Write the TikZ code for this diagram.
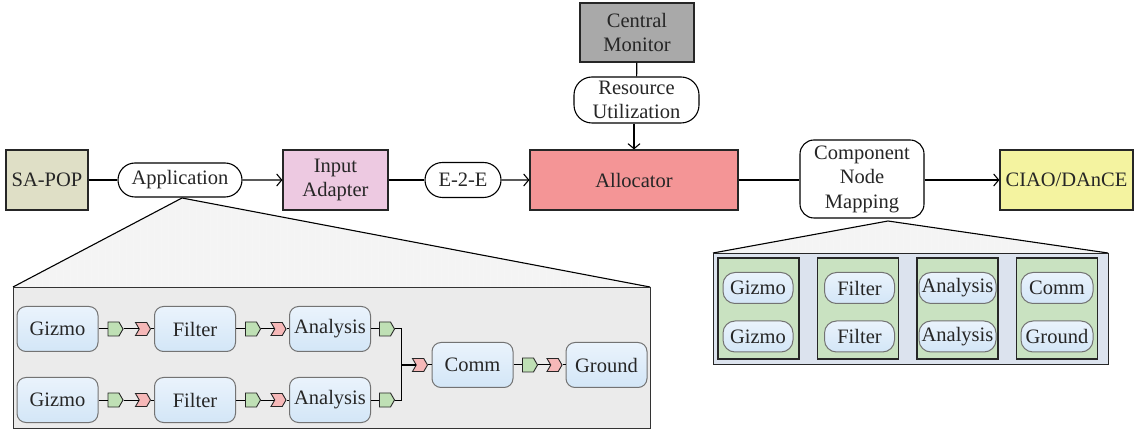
\documentclass[tikz,border=0pt]{standalone}
\usepackage{fontspec}
\setmainfont{Liberation Serif}
\usetikzlibrary{shapes.misc,shapes.symbols,arrows.meta}
\definecolor{sapop}{HTML}{DFDFC6}
\definecolor{inadapt}{HTML}{EDC9E1}
\definecolor{alloc}{HTML}{F49596}
\definecolor{ciao}{HTML}{F4F3A0}
\definecolor{cmon}{HTML}{A9A9A9}
\definecolor{pgreen}{HTML}{BFE0B5}
\definecolor{pred}{HTML}{F6B8B8}
\definecolor{colgreen}{HTML}{C9E2C1}
\definecolor{mapbox}{HTML}{DCE3EE}
\definecolor{appbox}{HTML}{EBEBEB}
\definecolor{tri}{HTML}{F4F4F4}
\definecolor{compa}{HTML}{EAF3FC}
\definecolor{compb}{HTML}{D3E6F7}
\definecolor{txt}{HTML}{262626}
\tikzset{
  every node/.style={font=\fontsize{20.5}{24.5}\selectfont, text=txt},
  blockbox/.style={draw=black!85, line width=1.2pt, align=center, inner sep=2pt},
  pill/.style={draw=black, line width=1.1pt, rounded rectangle, fill=white, align=center, inner sep=2pt},
  comp/.style={draw=black!55, line width=1pt, rounded corners=9pt, top color=compa, bottom color=compb, minimum width=81pt, minimum height=45pt, inner sep=0pt},
  mcomp/.style={draw=black!55, line width=1pt, rounded corners=12pt, top color=compa, bottom color=compb, minimum width=70pt, minimum height=31pt, inner sep=0pt},
  gport/.style={signal, signal to=east, signal pointer angle=120, draw=black!85, line width=0.9pt, fill=pgreen, minimum width=15pt, minimum height=14pt, inner sep=0pt},
  rport/.style={signal, signal from=west, signal to=east, signal pointer angle=120, draw=black!85, line width=0.9pt, fill=pred, minimum width=15pt, minimum height=13pt, inner sep=0pt},
  conn/.style={draw=black, line width=1.1pt},
  arr/.style={draw=black, line width=1.1pt, -{Straight Barb[length=5pt,width=12pt]}},
  link/.style={draw=black, line width=1pt},
}
\begin{document}
\begin{tikzpicture}[x=1pt,y=-1pt]
\useasboundingbox (0,0) rectangle (1135,435);

% top row
\node[blockbox, fill=sapop, minimum width=82pt, minimum height=60pt] (sapop) at (47,180) {SA-POP};
\node[pill, minimum width=128pt, minimum height=34pt] (app) at (180,180) {Application};
\node[blockbox, fill=inadapt, minimum width=105pt, minimum height=60pt] (ia) at (335.5,180) {Input\\Adapter};
\node[pill, minimum width=80pt, minimum height=35pt] (e2e) at (463,180) {E-2-E};
\node[blockbox, fill=alloc, minimum width=208pt, minimum height=60pt] (alloc) at (634,180) {Allocator};
\node[draw=black, line width=1.1pt, rounded corners=14pt, fill=white, align=center, minimum width=124pt, minimum height=78pt, inner sep=1pt] (cnm) at (862,179) {Component\\Node\\Mapping};
\node[blockbox, fill=ciao, minimum width=133pt, minimum height=60pt] (ciao) at (1066.5,180) {CIAO/DAnCE};
\node[blockbox, fill=cmon, minimum width=114pt, minimum height=59pt] (cmon) at (637,32.5) {Central\\Monitor};
\node[draw=black, line width=1.1pt, rounded corners=18pt, fill=white, align=center, minimum width=125pt, minimum height=46pt, inner sep=1pt] (ru) at (636.5,100) {Resource\\Utilization};

\draw[conn] (sapop) -- (app);
\draw[arr] (app) -- (ia);
\draw[conn] (ia) -- (e2e);
\draw[arr] (e2e) -- (alloc);
\draw[conn] (alloc.east) -- (cnm.west |- alloc.east);
\draw[arr] (cnm.east |- ciao.west) -- (ciao.west);
\draw[conn] (cmon) -- (ru);
\draw[arr] (ru.south -| alloc.north) -- (alloc.north);

% left zoom triangle
\coordinate (appz) at (182,198);
\coordinate (abl) at (13,287);
\coordinate (abr) at (650,287);
\begin{scope}
\clip (appz) -- (abl) -- (abr) -- cycle;
\fill[tri] (appz) -- (abl) -- (abr) -- cycle;
\draw[black!4, line width=0.4pt, step=7] (0,190) grid (660,290);
\end{scope}
\draw[black, line width=1.1pt] (abl) -- (appz) -- (abr);
\node[draw=black!80, line width=1.1pt, fill=appbox, minimum width=637pt, minimum height=141pt, inner sep=0pt, anchor=north west] (abox) at (abl) {};

% row 1
\node[comp] (giz1) at (57.5,329) {Gizmo};
\node[gport] (g11) at (113.5,329) {};
\node[rport] (r11) at (143,329) {};
\node[comp] (fil1) at (195,329) {Filter};
\node[gport] (g12) at (251,329) {};
\node[rport] (r12) at (278.5,329) {};
\node[comp] (ana1) at (330,329) {Analysis};
\node[gport] (g13) at (385,329) {};
% row 2
\node[comp] (giz2) at (57.5,400) {Gizmo};
\node[gport] (g21) at (113.5,400) {};
\node[rport] (r21) at (143,400) {};
\node[comp] (fil2) at (195,400) {Filter};
\node[gport] (g22) at (251,400) {};
\node[rport] (r22) at (278.5,400) {};
\node[comp] (ana2) at (330,400) {Analysis};
\node[gport] (g23) at (385,400) {};
% merged
\node[rport] (rc) at (420,365) {};
\node[comp] (comm) at (472.5,365) {Comm};
\node[gport] (gc) at (528,365) {};
\node[rport] (rg) at (554.5,365) {};
\node[comp] (gnd) at (606.5,365) {Ground};

\foreach \a/\b in {giz1/g11,g11/r11,r11/fil1,fil1/g12,g12/r12,r12/ana1,ana1/g13,
                   giz2/g21,g21/r21,r21/fil2,fil2/g22,g22/r22,r22/ana2,ana2/g23,
                   rc/comm,comm/gc,gc/rg,rg/gnd}
  \draw[link] (\a) -- (\b);
\coordinate (jn) at (401,365);
\draw[link] (g13.east) -| (jn);
\draw[link] (g23.east) -| (jn);
\draw[black, line width=1.8pt] (jn) -- (rc.west);

% right zoom triangle
\coordinate (cnmz) at (888,221);
\coordinate (mbl) at (713,253);
\coordinate (mbr) at (1108,253);
\begin{scope}
\clip (cnmz) -- (mbl) -- (mbr) -- cycle;
\fill[tri] (cnmz) -- (mbl) -- (mbr) -- cycle;
\draw[black!4, line width=0.4pt, step=7] (700,215) grid (1120,260);
\end{scope}
\draw[black, line width=1.1pt] (mbl) -- (cnmz) -- (mbr);
\node[draw=black!85, line width=1.1pt, fill=mapbox, minimum width=395pt, minimum height=111pt, inner sep=0pt, anchor=north west] (mbox) at (mbl) {};

\foreach \n/\x in {c1/758.5,c2/858,c3/957.5,c4/1057}
  \node[draw=black!85, line width=1.1pt, fill=colgreen, minimum width=81pt, minimum height=101pt, inner sep=0pt] (\n) at (\x,308.5) {};

\node[mcomp] (mg1) at (758,288) {Gizmo};
\node[mcomp] (mg2) at (758,336.5) {Gizmo};
\node[mcomp] (mf1) at (859.5,288) {Filter};
\node[mcomp] (mf2) at (859.5,336.5) {Filter};
\node[mcomp, minimum width=77pt] (ma1) at (957.5,288) {Analysis};
\node[mcomp, minimum width=77pt] (ma2) at (957.5,336.5) {Analysis};
\node[mcomp, minimum width=72pt] (mc) at (1057,288) {Comm};
\node[mcomp, minimum width=72pt] (mgr) at (1057,336.5) {Ground};
\end{tikzpicture}
\end{document}
